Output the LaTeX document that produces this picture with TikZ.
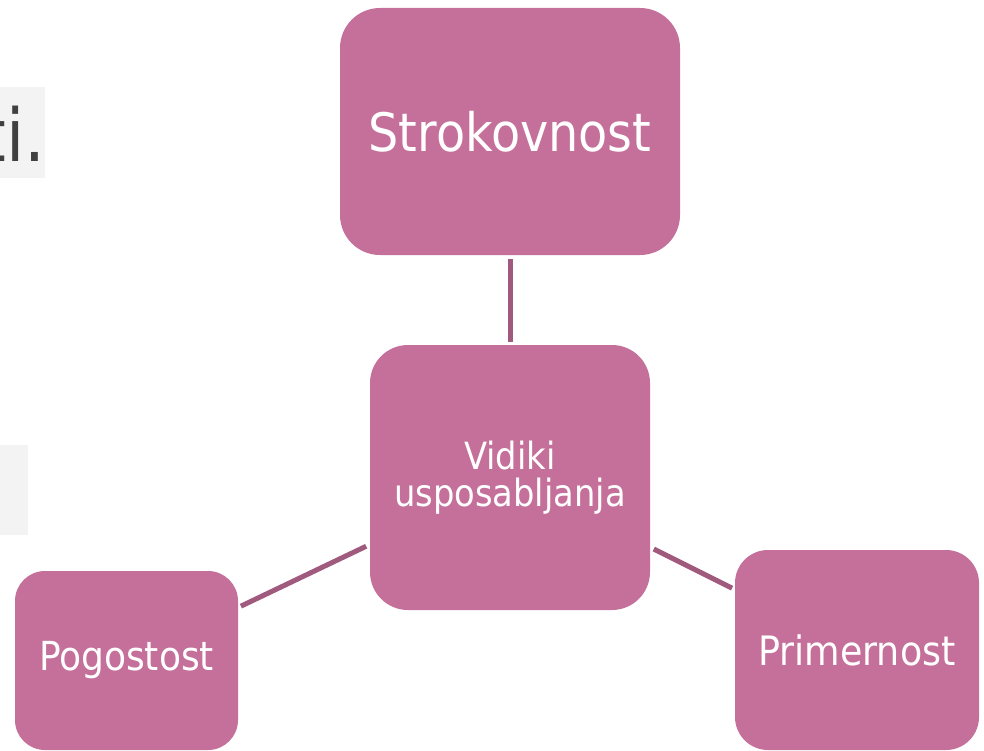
\documentclass[tikz,border=0pt]{standalone}
\usepackage{fontspec}
\setmainfont{DejaVu Sans Condensed}
\definecolor{boxfill}{HTML}{C5709A}
\definecolor{linkcol}{HTML}{A05A7E}
\definecolor{greybg}{HTML}{F3F3F3}
\definecolor{greytxt}{HTML}{404040}
\begin{document}
\begin{tikzpicture}[x=1pt,y=-1pt,
  box/.style={draw=none, fill=boxfill, text=white, inner sep=0pt, align=center},
  link/.style={draw=linkcol, line width=5pt, shorten <=4pt, shorten >=3pt}]
\useasboundingbox (0,0) rectangle (984,751);
\clip (0,0) rectangle (984,751);
\fill[white] (0,0) rectangle (984,751);
\fill[greybg] (0,87) rectangle (45,178);
\node[anchor=base east, text=greytxt, font=\fontsize{73}{80}\selectfont, inner sep=0pt] (ti) at (46,162) {ti.};
\fill[greybg] (0,445) rectangle (28,535);
\node[box, minimum width=340pt, minimum height=247pt, rounded corners=40pt, font=\fontsize{53}{60}\selectfont] (s) at (510,131.5) {Strokovnost};
\node[box, minimum width=280pt, minimum height=265pt, rounded corners=38pt, font=\fontsize{37.5}{37}\selectfont] (c) at (510,477.5) {Vidiki\\usposabljanja};
\node[box, minimum width=223pt, minimum height=179pt, rounded corners=30pt, font=\fontsize{40}{46}\selectfont] (p) at (126.5,660.5) {Pogostost};
\node[box, minimum width=244pt, minimum height=200pt, rounded corners=33pt, font=\fontsize{40.5}{46}\selectfont] (r) at (857,650) {Primernost};
\draw[link] (s) -- (c);
\draw[link] (c) -- (p);
\draw[link] (c) -- (r);
\end{tikzpicture}
\end{document}
